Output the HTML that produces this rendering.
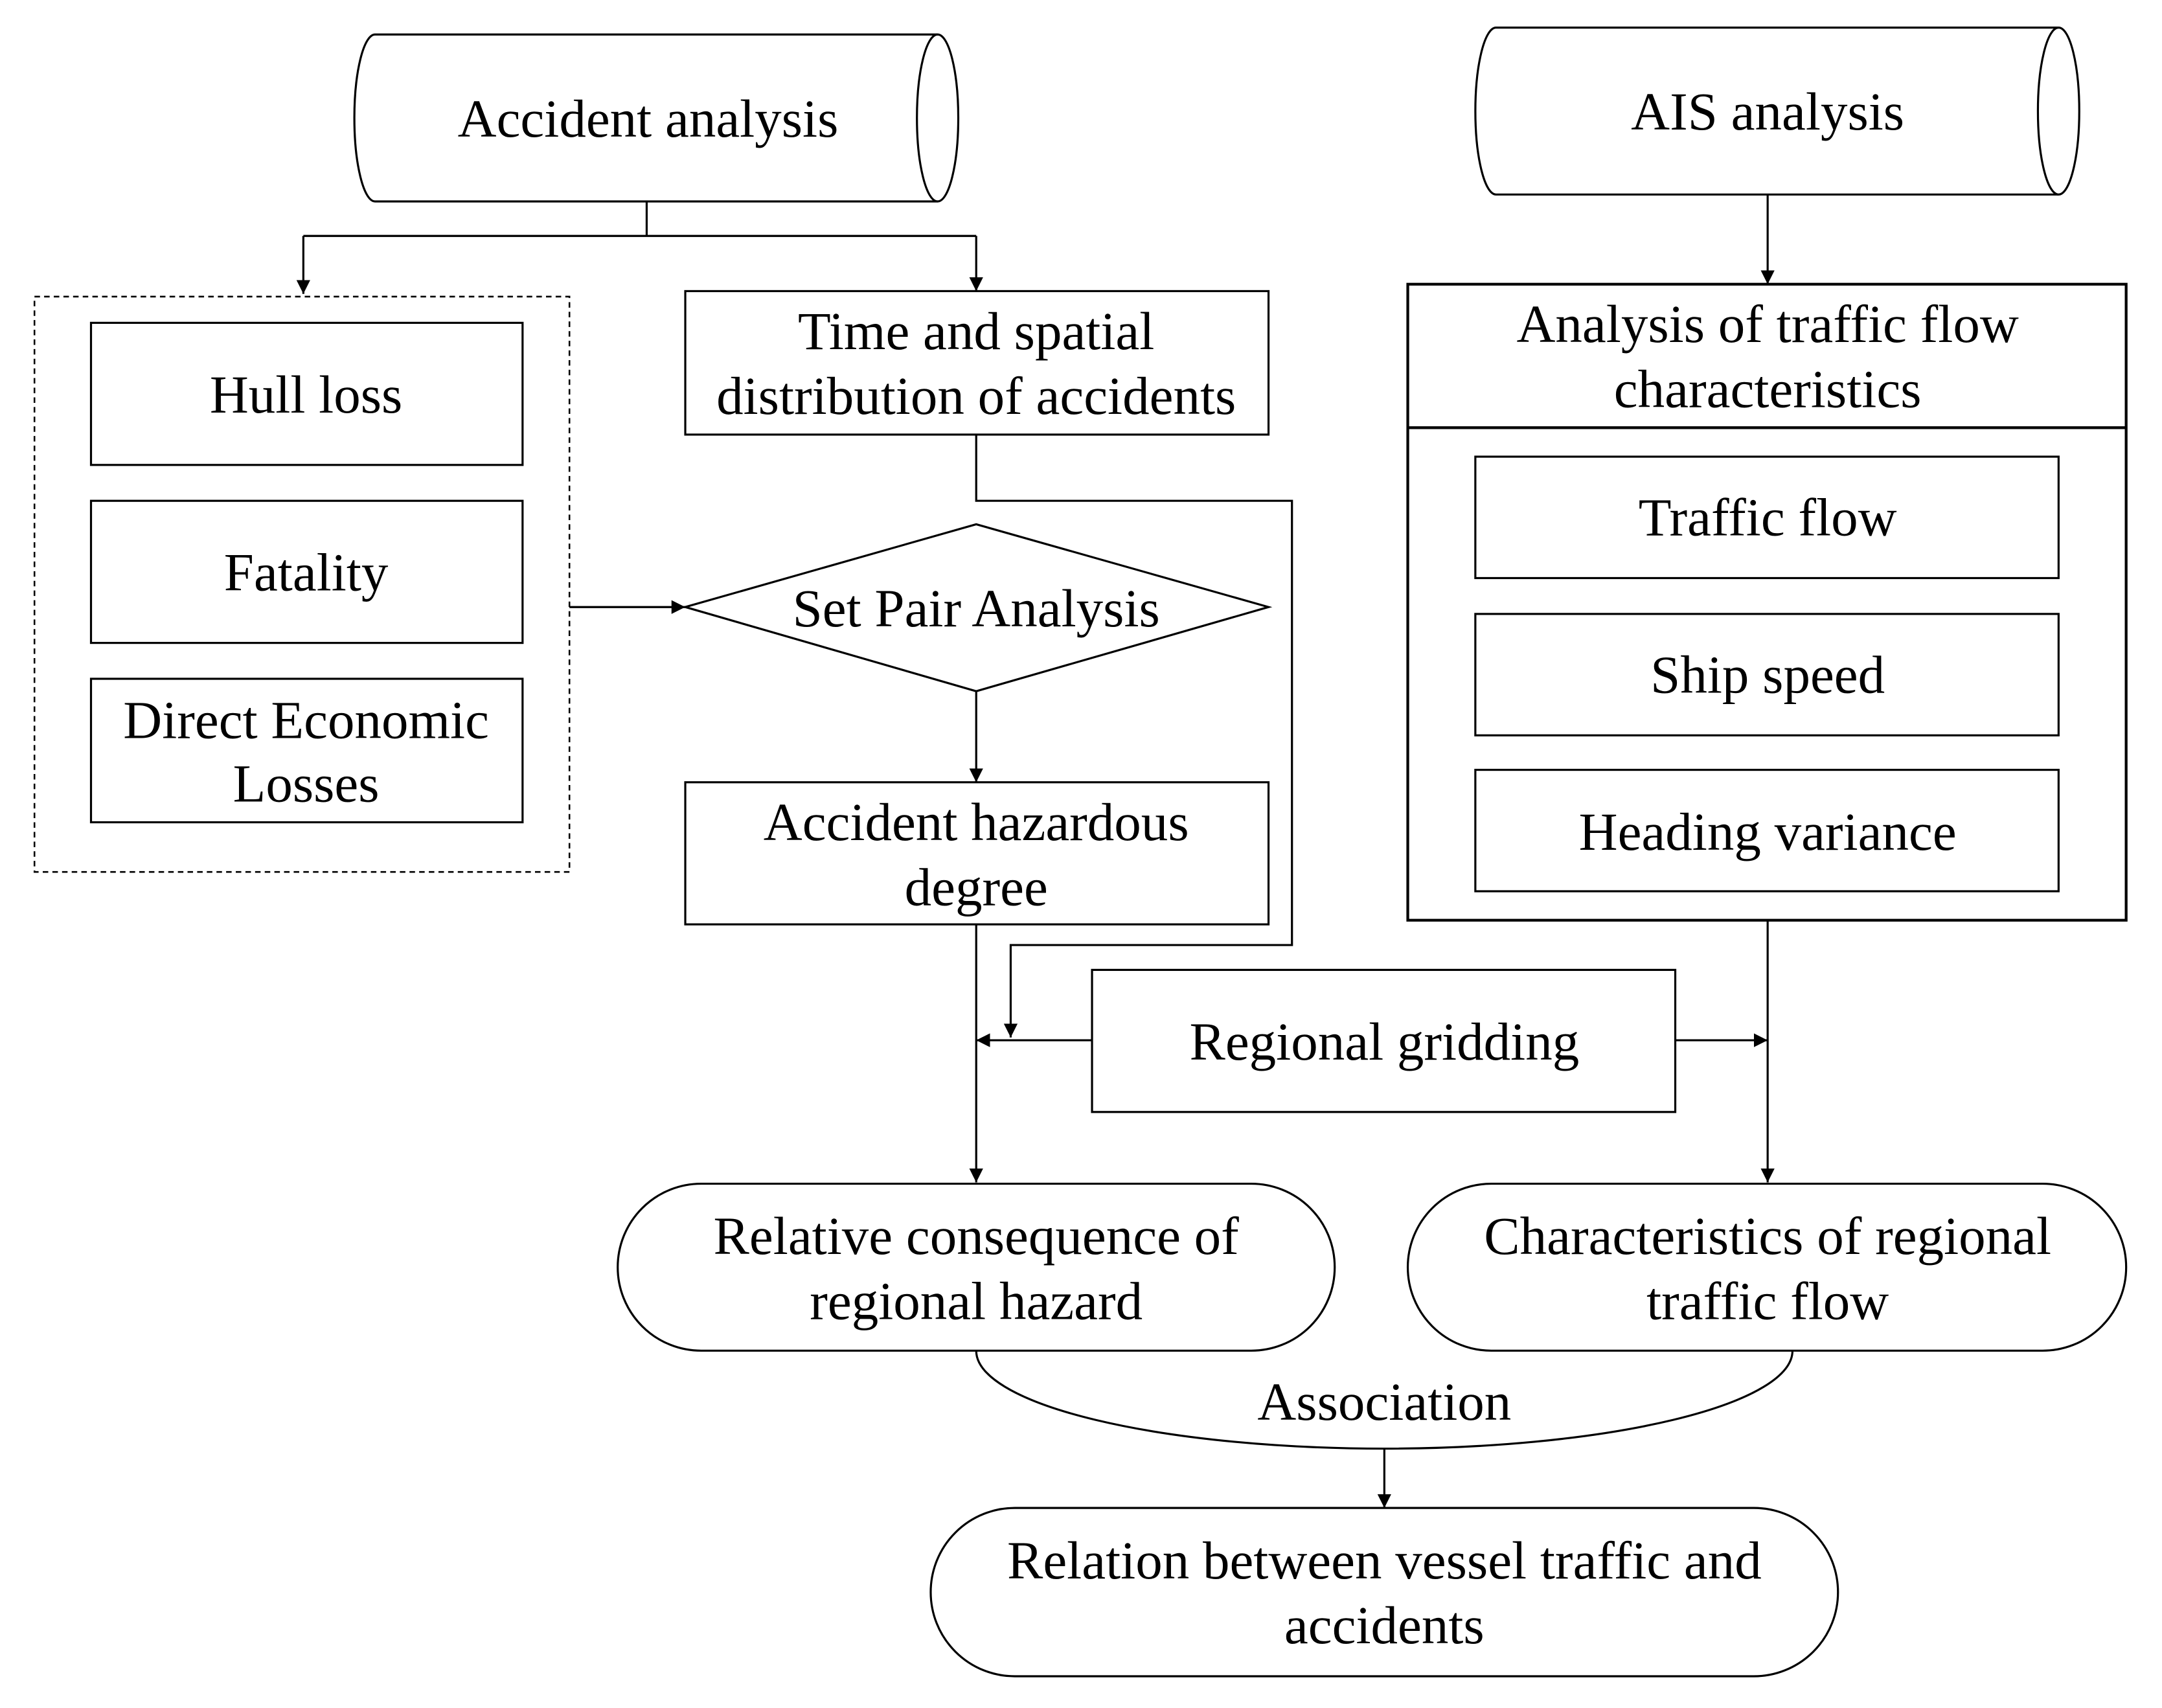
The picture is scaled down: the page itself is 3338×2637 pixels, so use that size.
<!DOCTYPE html>
<html><head><style>html,body{margin:0;padding:0;background:#fff}svg{display:block}</style></head>
<body>
<svg width="3338" height="2637" viewBox="0 0 1568 1238" preserveAspectRatio="none" xmlns="http://www.w3.org/2000/svg">
<defs><marker id="a" markerWidth="10" markerHeight="10" refX="10" refY="5" orient="auto" markerUnits="userSpaceOnUse"><path d="M0,0 L10,5 L0,10 Z" fill="#000"/></marker></defs>
<g fill="none" stroke="#000" stroke-width="1.5">
<path d="M272,25 H680 A15,60.5 0 0 1 680,146 H272 A15,60.5 0 0 1 272,25 Z"/>
<path d="M680,25 A15,60.5 0 0 0 680,146"/>
<path d="M1085,20 H1493 A15,60.5 0 0 1 1493,141 H1085 A15,60.5 0 0 1 1085,20 Z"/>
<path d="M1493,20 A15,60.5 0 0 0 1493,141"/>
<path d="M469,146 V171 M220,171 H708"/>
<path d="M220,171 V213" marker-end="url(#a)"/>
<path d="M708,171 V211" marker-end="url(#a)"/>
<rect x="25" y="215" width="388" height="417" stroke-dasharray="4,3" stroke-width="1.2"/>
<rect x="66" y="234" width="313" height="103"/>
<rect x="66" y="363" width="313" height="103"/>
<rect x="66" y="492" width="313" height="104"/>
<rect x="497" y="211" width="423" height="104"/>
<path d="M708,315 V363 H937 V685 H733 V752" marker-end="url(#a)"/>
<path d="M413,440 H497" marker-end="url(#a)"/>
<path d="M497,440 L708,380 L920,440 L708,501 Z"/>
<path d="M708,501 V567" marker-end="url(#a)"/>
<rect x="497" y="567" width="423" height="103"/>
<path d="M708,670 V857" marker-end="url(#a)"/>
<rect x="792" y="703" width="423" height="103"/>
<path d="M792,754 H708" marker-end="url(#a)"/>
<path d="M1215,754 H1282" marker-end="url(#a)"/>
<path d="M1282,141 V206" marker-end="url(#a)"/>
<rect x="1021" y="206" width="521" height="461" stroke-width="2"/>
<path d="M1021,310 H1542" stroke-width="2"/>
<rect x="1070" y="331" width="423" height="88"/>
<rect x="1070" y="445" width="423" height="88"/>
<rect x="1070" y="558" width="423" height="88"/>
<path d="M1282,667 V857" marker-end="url(#a)"/>
<rect x="448" y="858" width="520" height="121" rx="60.5"/>
<rect x="1021" y="858" width="521" height="121" rx="60.5"/>
<path d="M708,979 A296,71 0 0 0 1300,979"/>
<path d="M1004,1050 V1093" marker-end="url(#a)"/>
<rect x="675" y="1093" width="658" height="122" rx="61"/>
</g>
<g font-family="Liberation Serif, serif" font-size="39" text-anchor="middle" fill="#000">
<text x="470" y="99">Accident analysis</text>
<text x="1282" y="94">AIS analysis</text>
<text x="222" y="299">Hull loss</text>
<text x="222" y="428">Fatality</text>
<text x="222" y="535">Direct Economic</text>
<text x="222" y="581">Losses</text>
<text x="708" y="253">Time and spatial</text>
<text x="708" y="300">distribution of accidents</text>
<text x="708" y="454">Set Pair Analysis</text>
<text x="708" y="609">Accident hazardous</text>
<text x="708" y="656">degree</text>
<text x="1004" y="768">Regional gridding</text>
<text x="1282" y="248">Analysis of traffic flow</text>
<text x="1282" y="295">characteristics</text>
<text x="1282" y="388">Traffic flow</text>
<text x="1282" y="502">Ship speed</text>
<text x="1282" y="616">Heading variance</text>
<text x="708" y="909">Relative consequence of</text>
<text x="708" y="956">regional hazard</text>
<text x="1282" y="909">Characteristics of regional</text>
<text x="1282" y="956">traffic flow</text>
<text x="1004" y="1029">Association</text>
<text x="1004" y="1144">Relation between vessel traffic and</text>
<text x="1004" y="1191">accidents</text>
</g>
</svg>
</body></html>
